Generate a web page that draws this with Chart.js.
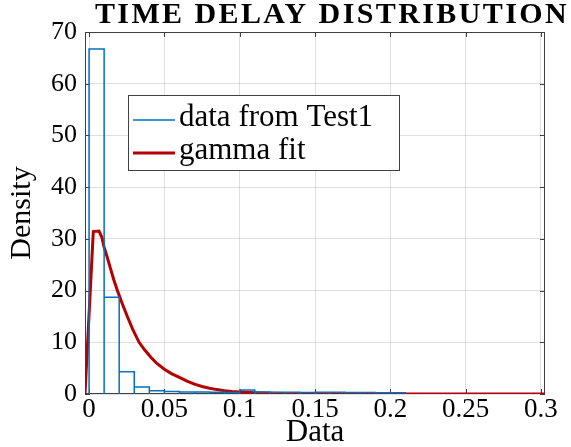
<!DOCTYPE html>
<html lang="en">
<head>
<meta charset="UTF-8">
<title>Time Delay Distribution</title>
<style>
  body { margin: 0; background: #fff; }
  #wrap { width: 571px; height: 447px; position: relative; }
</style>
</head>
<body>
<div id="wrap"><canvas id="delayChart"></canvas></div>
<script src="https://cdn.jsdelivr.net/npm/chart.js"></script>
<script>
// histogram: bin edges (Data) and density of each bin
const binEdges = [0, 0.01, 0.02, 0.03, 0.04, 0.05, 0.06, 0.07, 0.08, 0.09, 0.10,
                  0.11, 0.12, 0.13, 0.14, 0.15, 0.16, 0.17, 0.18, 0.19, 0.20, 0.21];
const binDensity = [66.7, 18.7, 4.3, 1.35, 0.65, 0.5, 0.4, 0.4, 0.35, 0.3, 0.75,
                    0.4, 0.35, 0.35, 0.3, 0.35, 0.35, 0.3, 0.3, 0.25, 0.25];

// gamma fit curve
const fitX = [-0.0027, 0.0028, 0.0066, 0.0085, 0.0099, 0.012, 0.014, 0.0165, 0.0188, 0.022,
              0.0254, 0.029, 0.0332, 0.037, 0.041, 0.045, 0.05, 0.055, 0.06, 0.065,
              0.07, 0.075, 0.08, 0.085, 0.09, 0.095, 0.1, 0.11, 0.12, 0.13,
              0.14, 0.16, 0.18, 0.2, 0.3027];
const fitY = [0, 31.4, 31.5, 30.3, 28.5, 26.5, 24.5, 22.0, 20, 17.5,
              15, 12.5, 10, 8.5, 7.1, 5.9, 4.8, 3.9, 3.2, 2.5,
              1.9, 1.45, 1.1, 0.85, 0.65, 0.5, 0.4, 0.25, 0.15, 0.1,
              0.06, 0.02, 0.01, 0, 0];

const xTicks = [0, 0.05, 0.1, 0.15, 0.2, 0.25, 0.3];
const xTickLabels = ['0', '0.05', '0.1', '0.15', '0.2', '0.25', '0.3'];
const yTicks = [0, 10, 20, 30, 40, 50, 60, 70];
const yTickLabels = ['0', '10', '20', '30', '40', '50', '60', '70'];

const seriesNames = ['data from Test1', 'gamma fit'];
const chartTitle = 'TIME DELAY DISTRIBUTION';

const serif = '"Liberation Serif", "Times New Roman", serif';
const blue = '#0072BD';
const red = '#B50000';
const axisColor = '#404040';

// outline of the histogram bars
const histPoints = [];
binDensity.forEach((h, i) => {
    histPoints.push({ x: binEdges[i], y: 0 });
    histPoints.push({ x: binEdges[i], y: h });
    histPoints.push({ x: binEdges[i + 1], y: h });
    histPoints.push({ x: binEdges[i + 1], y: 0 });
});
const fitPoints = fitX.map((x, i) => ({ x: x, y: fitY[i] }));

// box around the axes with inward ticks (matlab style)
const axesBox = {
    id: 'axesBox',
    beforeDatasetsDraw(chart) {
        const { ctx, chartArea: a, scales: { x, y } } = chart;
        ctx.save();
        ctx.strokeStyle = axisColor;
        ctx.lineWidth = 1;
        ctx.strokeRect(a.left + 0.5, a.top + 0.5, a.width - 1, a.height - 1);
        ctx.beginPath();
        xTicks.forEach(v => {
            const px = Math.round(x.getPixelForValue(v)) + 0.5;
            ctx.moveTo(px, a.bottom); ctx.lineTo(px, a.bottom - 5);
            ctx.moveTo(px, a.top); ctx.lineTo(px, a.top + 5);
        });
        yTicks.forEach(v => {
            const py = Math.round(y.getPixelForValue(v)) + 0.5;
            ctx.moveTo(a.left, py); ctx.lineTo(a.left + 5, py);
            ctx.moveTo(a.right, py); ctx.lineTo(a.right - 5, py);
        });
        ctx.stroke();
        ctx.restore();
    }
};

// title + legend box inside the plot
const decorations = {
    id: 'decorations',
    afterDraw(chart) {
        const ctx = chart.ctx;
        ctx.save();
        ctx.fillStyle = '#000';
        ctx.font = 'bold 30px ' + serif;
        ctx.textAlign = 'center';
        ctx.textBaseline = 'alphabetic';
        if ('letterSpacing' in ctx) ctx.letterSpacing = '2.4px';
        ctx.fillText(chartTitle, 332, 23);
        if ('letterSpacing' in ctx) ctx.letterSpacing = '0px';

        // legend
        const lx = 128.5, ly = 95.5, lw = 271, lh = 75;
        ctx.fillStyle = '#fff';
        ctx.fillRect(lx, ly, lw, lh);
        ctx.strokeStyle = axisColor;
        ctx.lineWidth = 1;
        ctx.strokeRect(lx, ly, lw, lh);
        const rows = [
            { y: 120, color: blue, width: 1.5 },
            { y: 153, color: red, width: 3 }
        ];
        ctx.font = '31px ' + serif;
        ctx.textAlign = 'left';
        rows.forEach((r, i) => {
            ctx.strokeStyle = r.color;
            ctx.lineWidth = r.width;
            ctx.beginPath();
            ctx.moveTo(133, r.y);
            ctx.lineTo(175, r.y);
            ctx.stroke();
            ctx.fillStyle = '#000';
            ctx.fillText(seriesNames[i], 179, r.y + 6);
        });
        ctx.restore();
    }
};

new Chart(document.getElementById('delayChart'), {
    type: 'line',
    data: {
        datasets: [
            {
                label: seriesNames[0],
                data: histPoints,
                borderColor: blue,
                borderWidth: 1.5,
                pointRadius: 0,
                tension: 0,
                fill: false
            },
            {
                label: seriesNames[1],
                data: fitPoints,
                borderColor: red,
                borderWidth: 3,
                pointRadius: 0,
                tension: 0,
                fill: false
            }
        ]
    },
    options: {
        responsive: true,
        maintainAspectRatio: false,
        animation: false,
        events: [],
        layout: { padding: { left: 0, right: 26, top: 32, bottom: 0 } },
        plugins: {
            legend: { display: false },
            title: { display: false },
            tooltip: { enabled: false }
        },
        scales: {
            x: {
                type: 'linear',
                min: -0.0027,
                max: 0.3027,
                afterBuildTicks: s => { s.ticks = xTicks.map(v => ({ value: v })); },
                afterFit: s => { s.height = 53; },
                grid: { color: 'rgba(38,38,38,0.15)', drawTicks: false },
                border: { display: false },
                ticks: {
                    padding: 0,
                    maxRotation: 0,
                    autoSkip: false,
                    color: '#000',
                    font: { family: serif, size: 27 },
                    callback: (v, i) => xTickLabels[i]
                },
                title: {
                    display: true,
                    text: 'Data',
                    color: '#000',
                    font: { family: serif, size: 31 },
                    padding: { top: 0, bottom: -4 }
                }
            },
            y: {
                type: 'linear',
                min: 0,
                max: 70,
                afterBuildTicks: s => { s.ticks = yTicks.map(v => ({ value: v })); },
                afterFit: s => { s.width = 85; },
                grid: { color: 'rgba(38,38,38,0.15)', drawTicks: false },
                border: { display: false },
                ticks: {
                    padding: 8,
                    autoSkip: false,
                    color: '#000',
                    font: { family: serif, size: 26 },
                    callback: (v, i) => yTickLabels[i]
                },
                title: {
                    display: true,
                    text: 'Density',
                    color: '#000',
                    font: { family: serif, size: 30 },
                    padding: { top: 4, bottom: 0 }
                }
            }
        }
    },
    plugins: [axesBox, decorations]
});
</script>
</body>
</html>
